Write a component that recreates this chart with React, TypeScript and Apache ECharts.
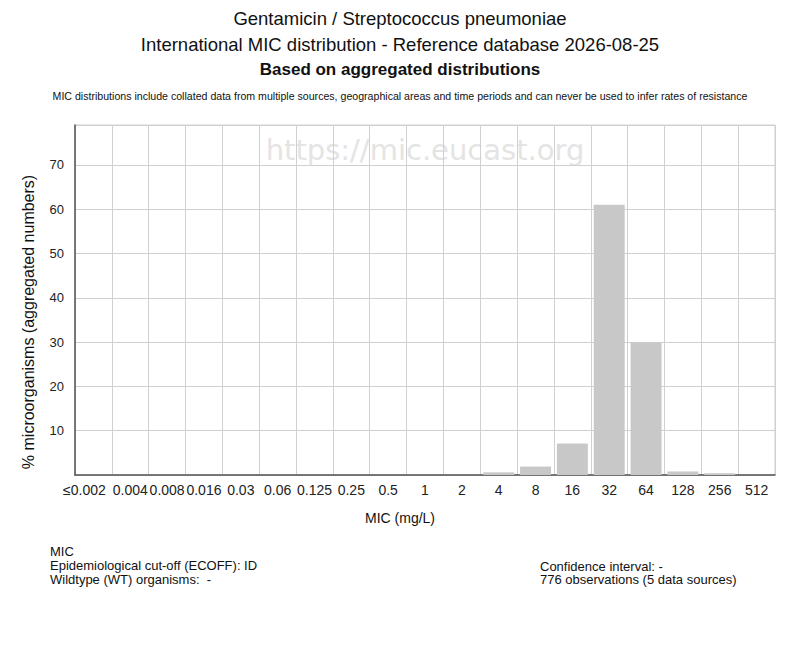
import React, { useEffect, useRef } from "react";
import * as echarts from "echarts";

const categories = ["≤0.002", "0.004", "0.008", "0.016", "0.03", "0.06", "0.125", "0.25", "0.5", "1", "2", "4", "8", "16", "32", "64", "128", "256", "512"];
const percentValues = [0, 0, 0, 0, 0, 0, 0, 0, 0, 0, 0, 0.6, 1.9, 7.1, 61.0, 29.9, 0.8, 0.4, 0];
const yTickInterval = 10;
const yMax = 79;

const titleLines = [
  "Gentamicin / Streptococcus pneumoniae",
  "International MIC distribution - Reference database 2026-08-25",
];
const boldTitle = "Based on aggregated distributions";
const disclaimer = "MIC distributions include collated data from multiple sources, geographical areas and time periods and can never be used to infer rates of resistance";
const leftInfo = ["MIC", "Epidemiological cut-off (ECOFF): ID", "Wildtype (WT) organisms:  -"];
const rightInfo = ["Confidence interval: -", "776 observations (5 data sources)"];
const watermark = "https://mic.eucast.org";
const xName = "MIC (mg/L)";
const yName = "% microorganisms (aggregated numbers)";

const FONT = "'Liberation Sans', Arial, Helvetica, sans-serif";

export default function App() {
  const ref = useRef<HTMLDivElement>(null);
  useEffect(() => {
    if (!ref.current) return;
    const chart = echarts.init(ref.current, null, { renderer: "svg" });
    const graphics: any[] = [];
    titleLines.forEach((t, i) => {
      graphics.push({
        type: "text", x: 400, y: 18 + i * 26,
        style: { text: t, font: `18.5px ${FONT}`, fill: "#111", align: "center", verticalAlign: "middle" },
      });
    });
    graphics.push({
      type: "text", x: 400, y: 69,
      style: { text: boldTitle, font: `bold 17px ${FONT}`, fill: "#111", align: "center", verticalAlign: "middle" },
    });
    graphics.push({
      type: "text", x: 400, y: 96,
      style: { text: disclaimer, font: `10.6px ${FONT}`, fill: "#111", align: "center", verticalAlign: "middle" },
    });
    graphics.push({
      type: "text", x: 425, y: 150, z: 0,
      style: { text: watermark, font: `29px 'DejaVu Sans', ${FONT}`, fill: "#e4e4e4", align: "center", verticalAlign: "middle" },
    });
    graphics.push({
      type: "text", x: 400, y: 518,
      style: { text: xName, font: `14px ${FONT}`, fill: "#111", align: "center", verticalAlign: "middle" },
    });
    graphics.push({
      type: "text", x: 28, y: 322, rotation: Math.PI / 2,
      style: { text: yName, font: `16px ${FONT}`, fill: "#111", align: "center", verticalAlign: "middle" },
    });
    leftInfo.forEach((t, i) => {
      graphics.push({
        type: "text", x: 50, y: 551 + i * 14,
        style: { text: t, font: `13px ${FONT}`, fill: "#111", verticalAlign: "middle" },
      });
    });
    rightInfo.forEach((t, i) => {
      graphics.push({
        type: "text", x: 540, y: 566 + i * 13.5,
        style: { text: t, font: `13px ${FONT}`, fill: "#111", verticalAlign: "middle" },
      });
    });

    const xData = categories.map((c, i) =>
      i === 0 ? { value: c, textStyle: { padding: [0, 18, 0, 0] } } : c
    );

    chart.setOption({
      animation: false,
      backgroundColor: "#fff",
      grid: {
        left: 75, right: 25, top: 125, bottom: 175,
        show: true, borderColor: "#d0d0d0", borderWidth: 1,
      },
      xAxis: {
        type: "category",
        data: xData,
        boundaryGap: true,
        axisTick: { show: false },
        axisLine: { show: true, lineStyle: { color: "#555", width: 1.5 } },
        splitLine: { show: true, interval: 0, lineStyle: { color: "#d0d0d0", width: 1 } },
        axisLabel: { interval: 0, fontSize: 14, color: "#222", margin: 8, fontFamily: FONT },
      },
      yAxis: {
        type: "value",
        min: 0,
        max: yMax,
        interval: yTickInterval,
        axisLine: { show: true, lineStyle: { color: "#555", width: 1.5 } },
        axisTick: { show: false },
        splitLine: { show: true, lineStyle: { color: "#d0d0d0", width: 1 } },
        axisLabel: {
          fontSize: 13, color: "#222", margin: 11, fontFamily: FONT,
          showMaxLabel: false,
          formatter: (v: number) => (v === 0 || v % yTickInterval !== 0 ? "" : String(v)),
        },
      },
      series: [
        {
          type: "bar",
          data: percentValues,
          barCategoryGap: "16%",
          itemStyle: { color: "#c8c8c8" },
          z: 3,
        },
      ],
      graphic: graphics,
    });
    return () => chart.dispose();
  }, []);
  return (
    <div
      ref={ref}
      style={{ position: "fixed", left: 0, top: 0, width: 800, height: 650 }}
    />
  );
}
